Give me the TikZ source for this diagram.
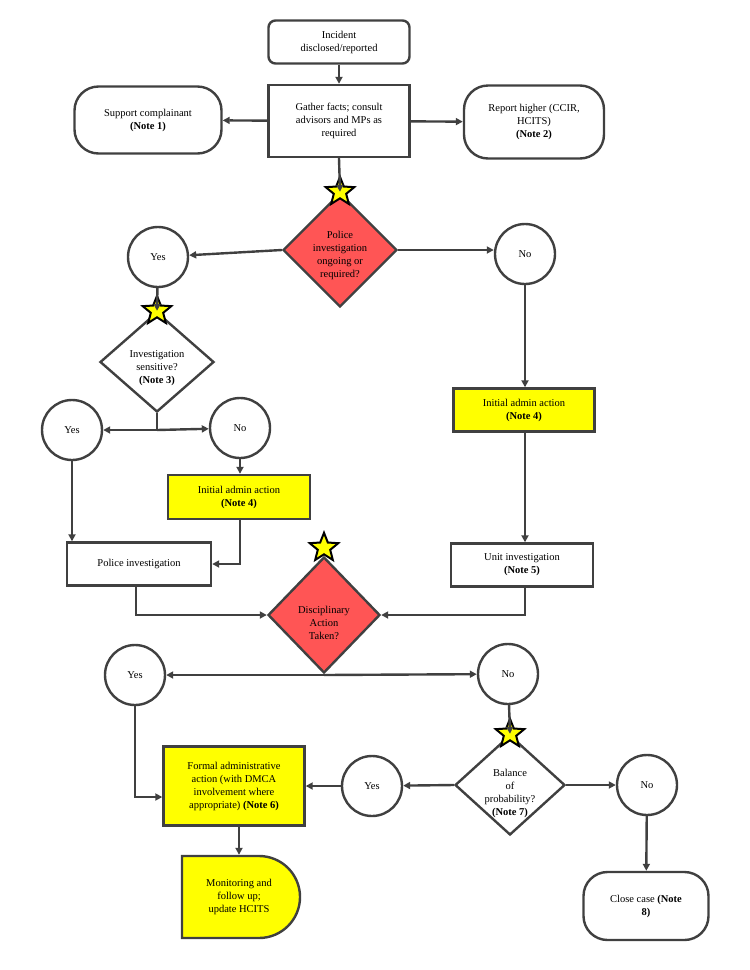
\documentclass[tikz,border=0pt]{standalone}
\usepackage{fontspec}
\setmainfont{Liberation Serif}
\usetikzlibrary{shapes.geometric,shapes.misc,arrows.meta}
\definecolor{ln}{HTML}{404040}
\definecolor{rd}{HTML}{FF5555}
\definecolor{yl}{HTML}{FFFF00}
\begin{document}
\begin{tikzpicture}[x=1pt,y=-1pt,
  every node/.style={font=\fontsize{10.5}{13}\selectfont, align=center, line width=2.4pt, draw=ln, inner sep=1pt},
  box/.style={rectangle, fill=white},
  ybox/.style={rectangle, fill=yl},
  circ/.style={circle, minimum size=60pt, fill=white},
  dia/.style={diamond, fill=#1, aspect=1},
  st/.style={star, star points=5, star point ratio=2.3, minimum size=30pt, fill=yl, draw=black, line width=2pt, inner sep=0pt},
  ar/.style={draw=ln, line width=2.4pt, -{Triangle[length=7pt,width=7pt]}},
  pl/.style={draw=ln, line width=2.4pt}]
\useasboundingbox (0,0) rectangle (750,970);
\node[box, rounded corners=7pt, minimum width=141pt, minimum height=43pt] (inc) at (339,42) {Incident\\disclosed/reported};
\node[box, minimum width=141pt, minimum height=72pt] (gat) at (339,121) {Gather facts; consult\\advisors and MPs as\\required};
\node[box, rounded corners=24pt, minimum width=147pt, minimum height=67pt] (sup) at (148,120) {Support complainant\\\textbf{(Note 1)}};
\node[box, rounded corners=24pt, minimum width=140pt, minimum height=73pt] (rep) at (534,122) {Report higher (CCIR,\\HCITS)\\\textbf{(Note 2)}};
\node[dia=rd, minimum width=114pt, minimum height=114pt, inner sep=0pt] (pol) at (340,250) {};
\node[draw=none, fill=none] at (340,255) {Police\\investigation\\ongoing or\\required?};
\node[circ] (y1) at (158,257) {Yes};
\node[circ] (n1) at (525,254) {No};
\node[dia=white, minimum width=114pt, minimum height=100pt, aspect=1.14, inner sep=0pt] (sen) at (157,362) {};
\node[draw=none, fill=none] at (157,368) {Investigation\\sensitive?\\\textbf{(Note 3)}};
\node[circ] (y2) at (72,430) {Yes};
\node[circ] (n2) at (240,428) {No};
\node[ybox, minimum width=142pt, minimum height=44pt] (ia1) at (239,497) {Initial admin action\\\textbf{(Note 4)}};
\node[ybox, minimum width=141pt, minimum height=43pt] (ia2) at (524,410) {Initial admin action\\\textbf{(Note 4)}};
\node[box, minimum width=144pt, minimum height=43pt] (pin) at (139,564) {Police investigation};
\node[box, minimum width=142pt, minimum height=43pt] (uin) at (522,565) {Unit investigation\\\textbf{(Note 5)}};
\node[dia=rd, minimum width=112pt, minimum height=116pt, aspect=0.97, inner sep=0pt] (dis) at (324,615) {};
\node[draw=none, fill=none] at (324,623) {Disciplinary\\Action\\Taken?};
\node[circ] (y3) at (135,675) {Yes};
\node[circ] (n3) at (508,674) {No};
\node[ybox, minimum width=141pt, minimum height=79pt] (frm) at (234,786) {Formal administrative\\action (with DMCA\\involvement where\\appropriate) \textbf{(Note 6)}};
\node[dia=white, minimum width=110pt, minimum height=100pt, aspect=1.1, inner sep=0pt] (bal) at (510,785) {};
\node[draw=none, fill=none] at (510,793) {Balance\\of\\probability?\\\textbf{(Note 7)}};
\node[circ] (y4) at (372,786) {Yes};
\node[circ] (n4) at (647,785) {No};
\node[rounded rectangle, rounded rectangle left arc=none, fill=yl, minimum width=120pt, minimum height=82pt] (mon) at (239,897) {Monitoring and\\follow up;\\update HCITS};
\node[box, rounded corners=24pt, minimum width=125pt, minimum height=68pt] (cls) at (646,906) {Close case \textbf{(Note}\\\textbf{8)}};
\node[st] (s1) at (pol.north) {};
\node[st] (s2) at (sen.north) {};
\node[st] (s3) at ([yshift=8pt]dis.north) {};
\node[st] (s4) at (bal.north) {};
\coordinate (j1) at (157,430);
\coordinate (j2) at (324,675);
\draw[ar] (inc) -- (gat);
\draw[ar] (gat) -- (sup);
\draw[ar] (gat) -- (rep);
\draw[ar] (gat.south) -- (pol.north);
\draw[ar] (pol.west) -- (y1);
\draw[ar] (pol.east) -- (n1.west |- pol.east);
\draw[ar] (y1) -- (sen.north);
\draw[pl] (sen.south) -- (j1);
\draw[ar] (j1) -- (y2);
\draw[ar] (j1) -- (n2);
\draw[ar] (y2) -- (y2 |- pin.north);
\draw[ar] (n2) -- (n2 |- ia1.north);
\draw[ar] (ia1.south -| n2) |- (pin.east);
\draw[ar] (n1) -- (n1 |- ia2.north);
\draw[ar] (ia2.south -| n1) -- (n1 |- uin.north);
\draw[ar] (pin.south -| 136,0) |- (dis.west);
\draw[ar] (uin.south -| 525,0) |- (dis.east);
\draw[pl] (dis.south) -- (j2);
\draw[ar] (j2) -- (y3);
\draw[ar] (j2) -- (n3);
\draw[ar] (y3) |- (frm.west |- 0,797);
\draw[ar] (n3) -- (bal.north);
\draw[ar] (bal.west) -- (y4);
\draw[ar] (y4) -- (frm.east);
\draw[ar] (bal.east) -- (n4);
\draw[ar] (n4) -- (cls);
\draw[ar] (frm.south -| mon.north) -- (mon.north);
\end{tikzpicture}
\end{document}
